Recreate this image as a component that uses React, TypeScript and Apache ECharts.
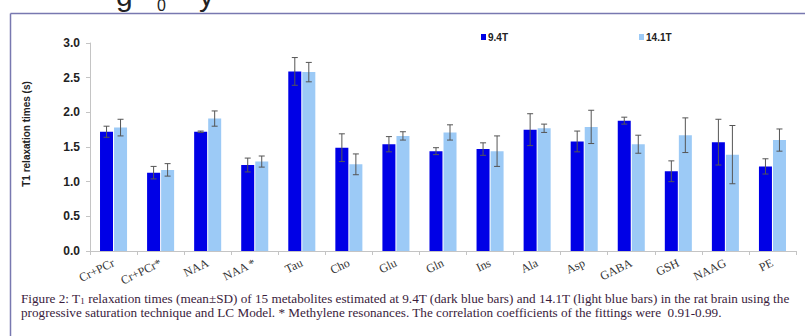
import React, { useEffect, useRef } from "react";
import * as echarts from "echarts";

const categories = ["Cr+PCr", "Cr+PCr*", "NAA", "NAA *", "Tau", "Cho", "Glu", "Gln", "Ins", "Ala", "Asp", "GABA", "GSH", "NAAG", "PE"];
const seriesNames = ["9.4T", "14.1T"];
const t94 = [1.72, 1.13, 1.72, 1.24, 2.59, 1.49, 1.54, 1.44, 1.47, 1.75, 1.58, 1.88, 1.15, 1.57, 1.22];
const t94sd = [0.08, 0.09, 0.01, 0.1, 0.2, 0.2, 0.11, 0.05, 0.09, 0.23, 0.15, 0.05, 0.15, 0.33, 0.11];
const t141 = [1.78, 1.17, 1.91, 1.29, 2.58, 1.25, 1.66, 1.71, 1.44, 1.77, 1.79, 1.54, 1.67, 1.39, 1.6];
const t141sd = [0.12, 0.09, 0.11, 0.08, 0.14, 0.15, 0.06, 0.11, 0.22, 0.06, 0.24, 0.13, 0.25, 0.42, 0.16];
const yTicks = { min: 0, max: 3, interval: 0.5 };
const yTitle = "T1 relaxation times (s)";
const captionLine1 =
  "Figure 2: T{sub|1} relaxation times (mean\u00b1SD) of 15 metabolites estimated at 9.4T (dark blue bars) and 14.1T (light blue bars) in the rat brain using the";
const captionLine2 =
  "progressive saturation technique and LC Model. * Methylene resonances. The correlation coefficients of the fittings were  0.91-0.99.";

const DARK = "#0000e6";
const LIGHT = "#9ccaf6";

function errorSeries(means: number[], sds: number[], offset: number) {
  return {
    type: "custom",
    z: 5,
    silent: true,
    data: means.map((m, i) => [i, m - sds[i], m + sds[i]]),
    encode: { x: 0, y: [1, 2] },
    renderItem: (params: any, api: any) => {
      const idx = api.value(0);
      const top = api.coord([idx, api.value(2)]);
      const bot = api.coord([idx, api.value(1)]);
      const cx = top[0] + offset;
      const cap = 3;
      const style = { stroke: "#555555", lineWidth: 1 };
      return {
        type: "group",
        children: [
          { type: "line", shape: { x1: cx, y1: top[1], x2: cx, y2: bot[1] }, style },
          { type: "line", shape: { x1: cx - cap, y1: top[1], x2: cx + cap, y2: top[1] }, style },
          { type: "line", shape: { x1: cx - cap, y1: bot[1], x2: cx + cap, y2: bot[1] }, style },
        ],
      };
    },
  };
}

export default function App() {
  const ref = useRef<HTMLDivElement>(null);
  useEffect(() => {
    if (!ref.current) return;
    const chart = echarts.init(ref.current, undefined, { renderer: "svg" });
    chart.setOption({
      animation: false,
      backgroundColor: "#ffffff",
      grid: { left: 90, right: 9, top: 43, bottom: 85, containLabel: false },
      legend: {
        data: seriesNames,
        left: 476,
        top: 27,
        icon: "rect",
        itemWidth: 5,
        itemHeight: 6,
        itemGap: 131,
        textStyle: { fontFamily: "Liberation Sans, Arial", fontWeight: "bold", fontSize: 10, color: "#222", padding: [0, 0, 0, -3] },
      },
      xAxis: {
        type: "category",
        data: categories,
        axisLine: { lineStyle: { color: "#c4c4c4" } },
        axisTick: { show: true, length: 4, lineStyle: { color: "#c4c4c4" } },
        axisLabel: {
          rotate: 26,
          margin: 11,
          interval: 0,
          fontFamily: "Liberation Serif, Times New Roman, serif",
          fontSize: 12,
          color: "#333",
        },
      },
      yAxis: {
        type: "value",
        min: yTicks.min,
        max: yTicks.max,
        interval: yTicks.interval,
        splitLine: { show: false },
        axisLine: { show: true, lineStyle: { color: "#c4c4c4" } },
        axisTick: { show: true, length: 4, lineStyle: { color: "#c4c4c4" } },
        axisLabel: {
          margin: 10,
          formatter: (v: number) => v.toFixed(1),
          fontFamily: "Liberation Sans, Arial",
          fontWeight: "bold",
          fontSize: 12,
          color: "#222",
        },
      },
      series: [
        { name: seriesNames[0], type: "bar", data: t94, barWidth: 13, barGap: "8%", itemStyle: { color: DARK } },
        { name: seriesNames[1], type: "bar", data: t141, barWidth: 13, barGap: "8%", itemStyle: { color: LIGHT } },
        errorSeries(t94, t94sd, -7),
        errorSeries(t141, t141sd, 7),
      ],
      graphic: [
        { type: "line", shape: { x1: 10.5, y1: 13.5, x2: 805, y2: 13.5 }, style: { stroke: "#7878b0", lineWidth: 1.5 } },
        { type: "line", shape: { x1: 10.5, y1: 13.5, x2: 10.5, y2: 336 }, style: { stroke: "#7878b0", lineWidth: 1.5 } },
        { type: "text", x: 116, y: 10, style: { text: "g", fontSize: 30, fontFamily: "Liberation Sans, Arial", fill: "#222", verticalAlign: "bottom" } },
        { type: "text", x: 157, y: 13, style: { text: "0", fontSize: 16, fontFamily: "Liberation Sans, Arial", fill: "#222", verticalAlign: "bottom" } },
        { type: "text", x: 199, y: 10, style: { text: "y", fontSize: 30, fontFamily: "Liberation Sans, Arial", fill: "#222", verticalAlign: "bottom" } },
        {
          type: "text",
          x: 26,
          y: 134,
          rotation: Math.PI / 2,
          style: {
            text: yTitle,
            fontFamily: "Liberation Sans, Arial",
            fontWeight: "bold",
            fontSize: 10,
            fill: "#222",
            align: "center",
            verticalAlign: "middle",
          },
        },
        {
          type: "text",
          x: 21,
          y: 298,
          style: {
            text: captionLine1,
            fontFamily: "Liberation Serif, Times New Roman, serif",
            fontSize: 13.2,
            fill: "#3a1c3c",
            verticalAlign: "middle",
            rich: {
              sub: { fontSize: 9, padding: [6, 0, 0, 0], fill: "#3a1c3c", fontFamily: "Liberation Serif, serif" },
            },
          },
        },
        {
          type: "text",
          x: 21,
          y: 312,
          style: {
            text: captionLine2,
            fontFamily: "Liberation Serif, Times New Roman, serif",
            fontSize: 13.2,
            fill: "#3a1c3c",
            verticalAlign: "middle",
          },
        },
      ],
    });
    return () => chart.dispose();
  }, []);
  return <div ref={ref} style={{ position: "fixed", left: 0, top: 0, width: 805, height: 336 }} />;
}
